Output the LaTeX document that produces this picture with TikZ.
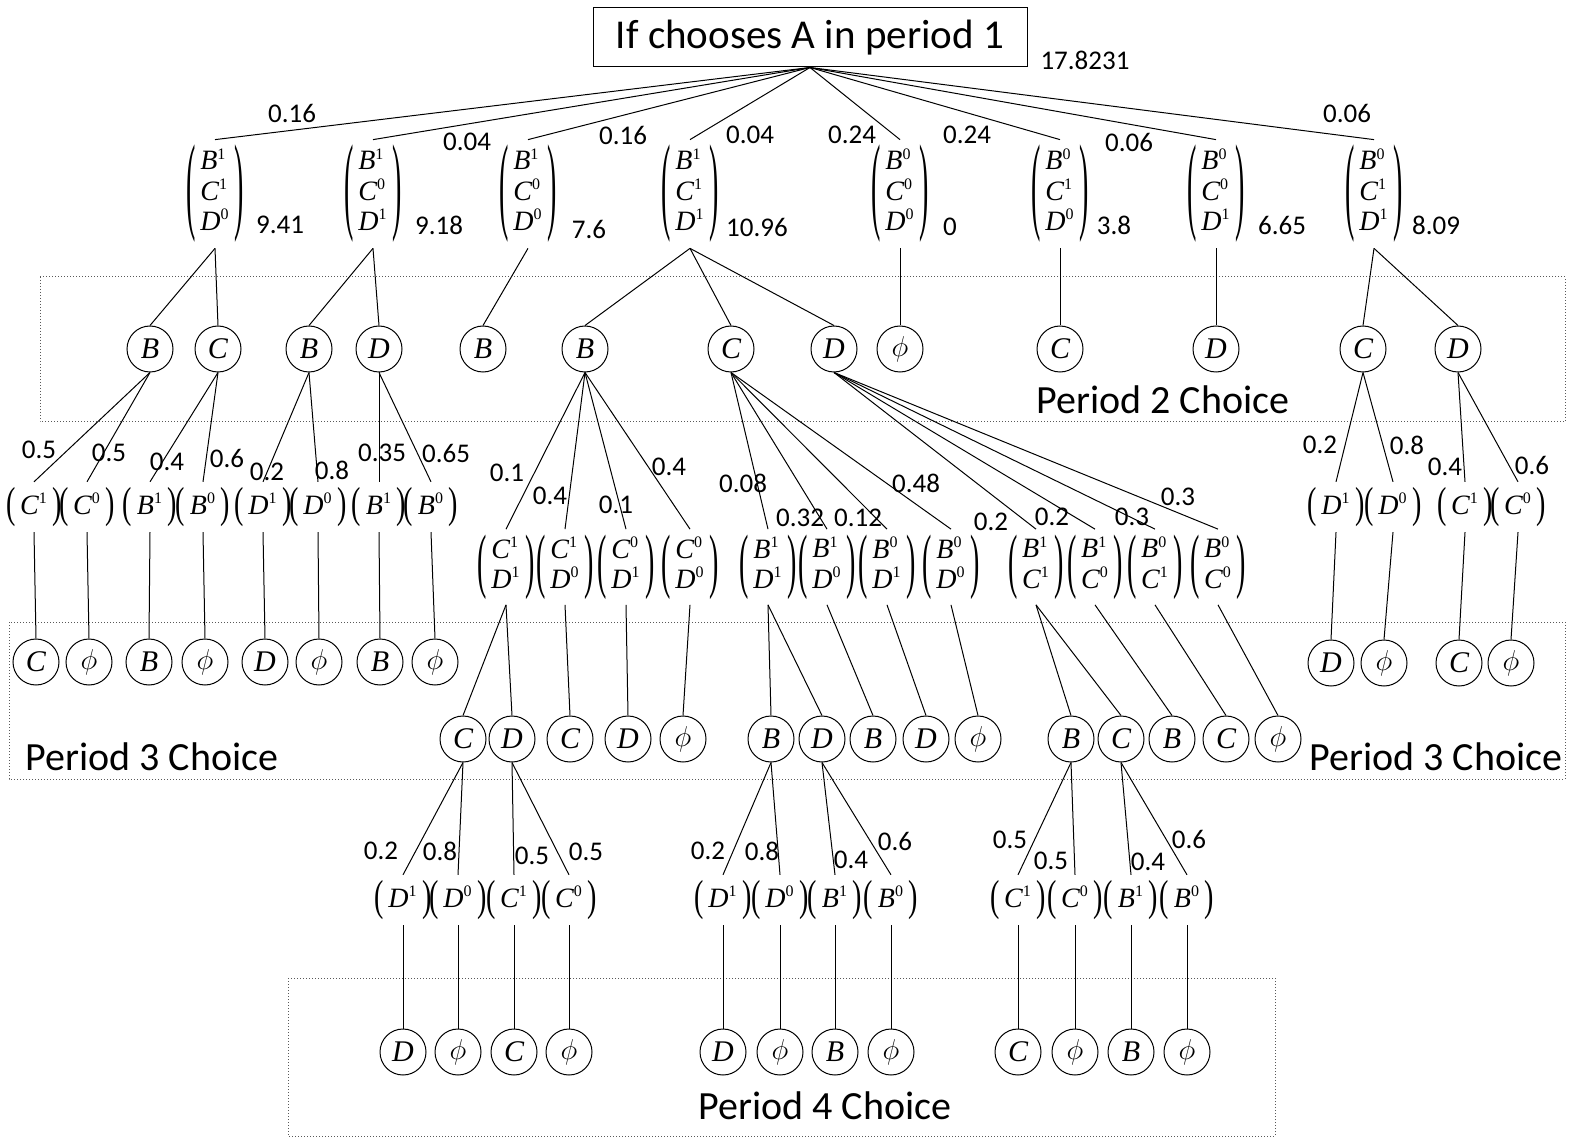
\documentclass[tikz,border=0pt]{standalone}
\usepackage{amsmath}
\usepackage{graphicx}
\usepackage{fontspec}
\setmainfont{Carlito}
\newfontfamily\tms{Liberation Serif}
\usepackage{tikz}

\newcommand{\lp}[1]{\vcenter{\hbox{\scalebox{1}[#1]{\tms(}}}}
\newcommand{\rp}[1]{\vcenter{\hbox{\scalebox{1}[#1]{\tms)}}}}
\newcommand{\bv}[2]{\mbox{\tms\itshape #1}^{\mbox{\tms\fontsize{8}{8}\selectfont #2}}}
\newcommand{\vone}[1]{$\lp{1.55}\,\bv#1\,\rp{1.55}$}
\newcommand{\vtwo}[2]{$\lp{2.55}\begin{array}{@{\,}l@{\,}}\bv#1\\\bv#2\end{array}\rp{2.55}$}
\newcommand{\vthree}[3]{$\lp{3.85}\begin{array}{@{\,}l@{\,}}\bv#1\\\bv#2\\\bv#3\end{array}\rp{3.85}$}
\newcommand{\nul}{$\phi$}

\begin{document}
\begin{tikzpicture}[x=0.5pt, y=-0.5pt, line width=0.5pt,
    title/.style={draw, rectangle, minimum width=217pt, minimum height=29.5pt, inner sep=0pt, font=\fontsize{20.5}{24}\selectfont},
    state/.style={inner xsep=0.5pt, inner ysep=2.5pt, font=\fontsize{14}{15}\selectfont},
    choice/.style={draw, circle, minimum size=23pt, inner sep=0pt, font=\tms\itshape\fontsize{15}{15}\selectfont},
    prob/.style={inner sep=0pt, font=\fontsize{13.5}{16}\selectfont},
    period/.style={inner sep=0pt, font=\fontsize{20}{24}\selectfont},
    frame/.style={draw=black!65, densely dotted, line width=0.5pt}]
    \useasboundingbox (0,0) rectangle (1579,1144);

    % frames
    \draw[frame] (40,277) rectangle (1565,422);
    \draw[frame] (9,622) rectangle (1565,779);
    \draw[frame] (288,978) rectangle (1275,1136);
    \node[period] (per2) at (1163,400) {Period 2 Choice};
    \node[period] (per3a) at (152,757) {Period 3 Choice};
    \node[period] (per3b) at (1436,757) {Period 3 Choice};
    \node[period] (per4) at (825,1106) {Period 4 Choice};

    % period 1
    \node[title] (root) at (810,37.5) {If chooses A in period 1};
    \node[prob] (rootval) at (1085,60) {17.8231};

    \node[state] (s1) at (215,194) {\vthree{B1}{C1}{D0}};
    \node[state] (s2) at (373,194) {\vthree{B1}{C0}{D1}};
    \node[state] (s3) at (528,194) {\vthree{B1}{C0}{D0}};
    \node[state] (s4) at (690,194) {\vthree{B1}{C1}{D1}};
    \node[state] (s5) at (900,194) {\vthree{B0}{C0}{D0}};
    \node[state] (s6) at (1060,194) {\vthree{B0}{C1}{D0}};
    \node[state] (s7) at (1216,194) {\vthree{B0}{C0}{D1}};
    \node[state] (s8) at (1374,194) {\vthree{B0}{C1}{D1}};

    \node[prob] (val1) at (280,225) {9.41};
    \node[prob] (val2) at (439,225) {9.18};
    \node[prob] (val3) at (589,229) {7.6};
    \node[prob] (val4) at (757,227) {10.96};
    \node[prob] (val5) at (950,227) {0};
    \node[prob] (val6) at (1114,225) {3.8};
    \node[prob] (val7) at (1282,225) {6.65};
    \node[prob] (val8) at (1436,225) {8.09};

    \node[prob] at (292,113) {0.16};
    \node[prob] at (467,142) {0.04};
    \node[prob] at (623,135) {0.16};
    \node[prob] at (750,135) {0.04};
    \node[prob] at (852,135) {0.24};
    \node[prob] at (967,135) {0.24};
    \node[prob] at (1129,142) {0.06};
    \node[prob] at (1347,113) {0.06};

    \draw (root.south) edge (s1.north) edge (s2.north) edge (s3.north) edge (s4.north)
        edge (s5.north) edge (s6.north) edge (s7.north) edge (s8.north);

    % period 2
    \node[choice] (s1b) at (150,349) {B};
    \node[choice] (s1c) at (218,349) {C};
    \node[choice] (s2b) at (309,349) {B};
    \node[choice] (s2d) at (379,349) {D};
    \node[choice] (s3b) at (483,349) {B};
    \node[choice] (s4b) at (585,349) {B};
    \node[choice] (s4c) at (731,349) {C};
    \node[choice] (s4d) at (834,349) {D};
    \node[choice] (s5n) at (900,349) {\nul};
    \node[choice] (s6c) at (1060,349) {C};
    \node[choice] (s7d) at (1216,349) {D};
    \node[choice] (s8c) at (1363,349) {C};
    \node[choice] (s8d) at (1458,349) {D};

    \draw (s1.south) edge (s1b.north) edge (s1c.north);
    \draw (s2.south) edge (s2b.north) edge (s2d.north);
    \draw (s3.south) -- (s3b.north);
    \draw (s4.south) edge (s4b.north) edge (s4c.north) edge (s4d.north);
    \draw (s5.south) -- (s5n.north);
    \draw (s6.south) -- (s6c.north);
    \draw (s7.south) -- (s7d.north);
    \draw (s8.south) edge (s8c.north) edge (s8d.north);

    % period 3, one unknown left
    \node[state] (s1b1) at (34,507) {\vone{C1}};
    \node[state] (s1b0) at (87,507) {\vone{C0}};
    \node[state] (s1c1) at (150,507) {\vone{B1}};
    \node[state] (s1c0) at (203,507) {\vone{B0}};
    \node[state] (s2b1) at (263,507) {\vone{D1}};
    \node[state] (s2b0) at (318,507) {\vone{D0}};
    \node[state] (s2d1) at (379,507) {\vone{B1}};
    \node[state] (s2d0) at (431,507) {\vone{B0}};
    \node[state] (s8c1) at (1336,507) {\vone{D1}};
    \node[state] (s8c0) at (1393,507) {\vone{D0}};
    \node[state] (s8d1) at (1465,507) {\vone{C1}};
    \node[state] (s8d0) at (1518,507) {\vone{C0}};

    \node[prob] at (39,450) {0.5};
    \node[prob] at (109,453) {0.5};
    \node[prob] at (167,462) {0.4};
    \node[prob] at (227,458) {0.6};
    \node[prob] at (267,472) {0.2};
    \node[prob] at (332,470) {0.8};
    \node[prob] at (382,453) {0.35};
    \node[prob] at (446,453) {0.65};
    \node[prob] at (1320,445) {0.2};
    \node[prob] at (1407,445) {0.8};
    \node[prob] at (1445,467) {0.4};
    \node[prob] at (1532,465) {0.6};

    \draw (s1b.south) edge (s1b1.north) edge (s1b0.north);
    \draw (s1c.south) edge (s1c1.north) edge (s1c0.north);
    \draw (s2b.south) edge (s2b1.north) edge (s2b0.north);
    \draw (s2d.south) edge (s2d1.north) edge (s2d0.north);
    \draw (s8c.south) edge (s8c1.north) edge (s8c0.north);
    \draw (s8d.south) edge (s8d1.north) edge (s8d0.north);

    \node[choice] (s1b1x) at (36,662) {C};
    \node[choice] (s1b0x) at (89,662) {\nul};
    \node[choice] (s1c1x) at (149,662) {B};
    \node[choice] (s1c0x) at (205,662) {\nul};
    \node[choice] (s2b1x) at (265,662) {D};
    \node[choice] (s2b0x) at (319,662) {\nul};
    \node[choice] (s2d1x) at (380,662) {B};
    \node[choice] (s2d0x) at (435,662) {\nul};
    \node[choice] (s8c1x) at (1331,663) {D};
    \node[choice] (s8c0x) at (1384,663) {\nul};
    \node[choice] (s8d1x) at (1459,663) {C};
    \node[choice] (s8d0x) at (1511,663) {\nul};

    \draw (s1b1.south) -- (s1b1x.north);
    \draw (s1b0.south) -- (s1b0x.north);
    \draw (s1c1.south) -- (s1c1x.north);
    \draw (s1c0.south) -- (s1c0x.north);
    \draw (s2b1.south) -- (s2b1x.north);
    \draw (s2b0.south) -- (s2b0x.north);
    \draw (s2d1.south) -- (s2d1x.north);
    \draw (s2d0.south) -- (s2d0x.north);
    \draw (s8c1.south) -- (s8c1x.north);
    \draw (s8c0.south) -- (s8c0x.north);
    \draw (s8d1.south) -- (s8d1x.north);
    \draw (s8d0.south) -- (s8d0x.north);

    % period 3, two unknowns left
    \node[state] (s4b11) at (506,567) {\vtwo{C1}{D1}};
    \node[state] (s4b10) at (565,567) {\vtwo{C1}{D0}};
    \node[state] (s4b01) at (626,567) {\vtwo{C0}{D1}};
    \node[state] (s4b00) at (690,567) {\vtwo{C0}{D0}};
    \node[state] (s4c11) at (768,567) {\vtwo{B1}{D1}};
    \node[state] (s4c10) at (827,567) {\vtwo{B1}{D0}};
    \node[state] (s4c01) at (887,567) {\vtwo{B0}{D1}};
    \node[state] (s4c00) at (951,567) {\vtwo{B0}{D0}};
    \node[state] (s4d11) at (1036,567) {\vtwo{B1}{C1}};
    \node[state] (s4d10) at (1095,567) {\vtwo{B1}{C0}};
    \node[state] (s4d01) at (1155,567) {\vtwo{B0}{C1}};
    \node[state] (s4d00) at (1218,567) {\vtwo{B0}{C0}};

    \node[prob] at (507,473) {0.1};
    \node[prob] at (550,496) {0.4};
    \node[prob] at (616,505) {0.1};
    \node[prob] at (669,467) {0.4};
    \node[prob] at (743,483) {0.08};
    \node[prob] at (800,518) {0.32};
    \node[prob] at (858,518) {0.12};
    \node[prob] at (916,483) {0.48};
    \node[prob] at (991,522) {0.2};
    \node[prob] at (1052,517) {0.2};
    \node[prob] at (1132,517) {0.3};
    \node[prob] at (1178,497) {0.3};

    \draw (s4b.south) edge (s4b11.north) edge (s4b10.north) edge (s4b01.north) edge (s4b00.north);
    \draw (s4c.south) edge (s4c11.north) edge (s4c10.north) edge (s4c01.north) edge (s4c00.north);
    \draw (s4d.south) edge (s4d11.north) edge (s4d10.north) edge (s4d01.north) edge (s4d00.north);

    \node[choice] (s4b11c) at (463,739) {C};
    \node[choice] (s4b11d) at (512,739) {D};
    \node[choice] (s4b10x) at (570,739) {C};
    \node[choice] (s4b01x) at (628,739) {D};
    \node[choice] (s4b00x) at (683,739) {\nul};
    \node[choice] (s4c11b) at (771,739) {B};
    \node[choice] (s4c11d) at (822,739) {D};
    \node[choice] (s4c10x) at (873,739) {B};
    \node[choice] (s4c01x) at (926,739) {D};
    \node[choice] (s4c00x) at (978,739) {\nul};
    \node[choice] (s4d11b) at (1071,739) {B};
    \node[choice] (s4d11c) at (1121,739) {C};
    \node[choice] (s4d10x) at (1172,739) {B};
    \node[choice] (s4d01x) at (1226,739) {C};
    \node[choice] (s4d00x) at (1278,739) {\nul};

    \draw (s4b11.south) edge (s4b11c.north) edge (s4b11d.north);
    \draw (s4b10.south) -- (s4b10x.north);
    \draw (s4b01.south) -- (s4b01x.north);
    \draw (s4b00.south) -- (s4b00x.north);
    \draw (s4c11.south) edge (s4c11b.north) edge (s4c11d.north);
    \draw (s4c10.south) -- (s4c10x.north);
    \draw (s4c01.south) -- (s4c01x.north);
    \draw (s4c00.south) -- (s4c00x.north);
    \draw (s4d11.south) edge (s4d11b.north) edge (s4d11c.north);
    \draw (s4d10.south) -- (s4d10x.north);
    \draw (s4d01.south) -- (s4d01x.north);
    \draw (s4d00.south) -- (s4d00x.north);

    % period 4
    \node[state] (s4b11c1) at (403,900) {\vone{D1}};
    \node[state] (s4b11c0) at (458,900) {\vone{D0}};
    \node[state] (s4b11d1) at (514,900) {\vone{C1}};
    \node[state] (s4b11d0) at (569,900) {\vone{C0}};
    \node[state] (s4c11b1) at (723,900) {\vone{D1}};
    \node[state] (s4c11b0) at (780,900) {\vone{D0}};
    \node[state] (s4c11d1) at (835,900) {\vone{B1}};
    \node[state] (s4c11d0) at (891,900) {\vone{B0}};
    \node[state] (s4d11b1) at (1018,900) {\vone{C1}};
    \node[state] (s4d11b0) at (1075,900) {\vone{C0}};
    \node[state] (s4d11c1) at (1131,900) {\vone{B1}};
    \node[state] (s4d11c0) at (1187,900) {\vone{B0}};

    \node[prob] at (381,851) {0.2};
    \node[prob] at (440,851) {0.8};
    \node[prob] at (532,856) {0.5};
    \node[prob] at (586,852) {0.5};
    \node[prob] at (708,851) {0.2};
    \node[prob] at (762,851) {0.8};
    \node[prob] at (851,860) {0.4};
    \node[prob] at (895,841) {0.6};
    \node[prob] at (1010,840) {0.5};
    \node[prob] at (1051,861) {0.5};
    \node[prob] at (1148,862) {0.4};
    \node[prob] at (1189,839) {0.6};

    \draw (s4b11c.south) edge (s4b11c1.north) edge (s4b11c0.north);
    \draw (s4b11d.south) edge (s4b11d1.north) edge (s4b11d0.north);
    \draw (s4c11b.south) edge (s4c11b1.north) edge (s4c11b0.north);
    \draw (s4c11d.south) edge (s4c11d1.north) edge (s4c11d0.north);
    \draw (s4d11b.south) edge (s4d11b1.north) edge (s4d11b0.north);
    \draw (s4d11c.south) edge (s4d11c1.north) edge (s4d11c0.north);

    \node[choice] (s4b11c1x) at (403,1052) {D};
    \node[choice] (s4b11c0x) at (458,1052) {\nul};
    \node[choice] (s4b11d1x) at (514,1052) {C};
    \node[choice] (s4b11d0x) at (569,1052) {\nul};
    \node[choice] (s4c11b1x) at (723,1052) {D};
    \node[choice] (s4c11b0x) at (780,1052) {\nul};
    \node[choice] (s4c11d1x) at (835,1052) {B};
    \node[choice] (s4c11d0x) at (891,1052) {\nul};
    \node[choice] (s4d11b1x) at (1018,1052) {C};
    \node[choice] (s4d11b0x) at (1075,1052) {\nul};
    \node[choice] (s4d11c1x) at (1131,1052) {B};
    \node[choice] (s4d11c0x) at (1187,1052) {\nul};

    \draw (s4b11c1.south) -- (s4b11c1x.north);
    \draw (s4b11c0.south) -- (s4b11c0x.north);
    \draw (s4b11d1.south) -- (s4b11d1x.north);
    \draw (s4b11d0.south) -- (s4b11d0x.north);
    \draw (s4c11b1.south) -- (s4c11b1x.north);
    \draw (s4c11b0.south) -- (s4c11b0x.north);
    \draw (s4c11d1.south) -- (s4c11d1x.north);
    \draw (s4c11d0.south) -- (s4c11d0x.north);
    \draw (s4d11b1.south) -- (s4d11b1x.north);
    \draw (s4d11b0.south) -- (s4d11b0x.north);
    \draw (s4d11c1.south) -- (s4d11c1x.north);
    \draw (s4d11c0.south) -- (s4d11c0x.north);
\end{tikzpicture}
\end{document}
